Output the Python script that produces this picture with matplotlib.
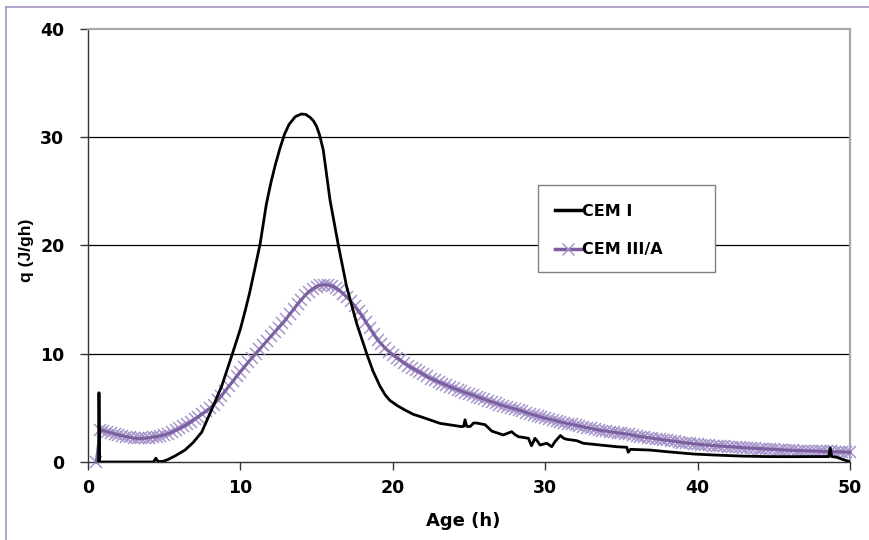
import matplotlib
matplotlib.use("Agg")
import matplotlib.pyplot as plt
from matplotlib.lines import Line2D
from matplotlib.patches import Rectangle
from matplotlib.font_manager import FontProperties

# ---- data ----
cem1_t = [0.68, 0.70, 0.72, 0.76, 1.0, 4.3, 4.45, 4.6, 4.9, 5.2, 5.7, 6.36, 6.9, 7.46,
          8.1, 8.77, 9.43, 10.0, 10.3, 10.6, 11.0, 11.3, 11.7, 12.0, 12.3, 12.6, 12.9, 13.2,
          13.6, 14.0, 14.3, 14.6, 14.8, 15.0, 15.2, 15.44, 15.88, 16.43, 16.97, 17.63,
          18.29, 18.7, 19.16, 19.5, 19.8, 20.3, 20.8, 21.35, 21.8, 23.1,
          24.5, 24.65, 24.74, 24.85, 25.07, 25.3, 25.5, 26.05, 26.5, 27.25, 27.8, 28.0,
          28.24, 28.9, 29.1, 29.33, 29.5, 29.66, 30.1, 30.43, 30.64, 31.0, 31.2, 31.4,
          32.07, 32.5, 33.6, 34.7, 35.35, 35.45, 35.6, 36.9, 38.0, 39.7, 41.0, 42.8,
          44.5, 46.06, 47.5, 48.6, 48.7, 48.8, 49.1, 49.6, 50.0]
cem1_q = [0.0, 0.0, 6.4, 0.0, 0.0, 0.0, 0.35, 0.05, 0.05, 0.2, 0.55, 1.1, 1.8, 2.75,
          4.8, 7.0, 9.8, 12.3, 13.9, 15.6, 18.2, 20.2, 23.8, 25.8, 27.5, 29.0, 30.3, 31.2,
          31.9, 32.15, 32.1, 31.8, 31.5, 31.0, 30.2, 28.8, 24.2, 20.0, 16.2, 12.8,
          10.0, 8.4, 7.0, 6.2, 5.7, 5.2, 4.8, 4.4, 4.2, 3.57,
          3.27, 3.3, 3.9, 3.3, 3.27, 3.6, 3.6, 3.45, 2.85, 2.5, 2.8, 2.55,
          2.34, 2.19, 1.5, 2.19, 1.9, 1.57, 1.73, 1.41, 1.88, 2.45, 2.2, 2.1,
          1.97, 1.73, 1.57, 1.41, 1.36, 0.9, 1.17, 1.1, 0.95, 0.74, 0.65, 0.55,
          0.5, 0.49, 0.5, 0.5, 1.3, 0.5, 0.45, 0.2, 0.03]

cem3_t = [0.55, 0.8,
          1.0, 1.25, 1.5, 1.75, 2.0, 2.25, 2.5, 2.75,
          3.0, 3.25, 3.5, 3.75, 4.0, 4.25, 4.5, 4.75,
          5.0, 5.25, 5.5, 5.75, 6.0, 6.25, 6.5, 6.75,
          7.0, 7.25, 7.5, 7.75, 8.0, 8.25, 8.5, 8.75,
          9.0, 9.25, 9.5, 9.75, 10.0, 10.25, 10.5, 10.75,
          11.0, 11.25, 11.5, 11.75, 12.0, 12.25, 12.5, 12.75,
          13.0, 13.25, 13.5, 13.75, 14.0, 14.25, 14.5, 14.75,
          15.0, 15.25, 15.5, 15.75, 16.0, 16.25, 16.5, 16.75,
          17.0, 17.25, 17.5, 17.75, 18.0, 18.25, 18.5, 18.75,
          19.0, 19.25, 19.5, 19.75, 20.0, 20.25, 20.5, 20.75,
          21.0, 21.25, 21.5, 21.75, 22.0, 22.25, 22.5, 22.75,
          23.0, 23.25, 23.5, 23.75, 24.0, 24.25, 24.5, 24.75,
          25.0, 25.25, 25.5, 25.75, 26.0, 26.25, 26.5, 26.75,
          27.0, 27.25, 27.5, 27.75, 28.0, 28.25, 28.5, 28.75,
          29.0, 29.25, 29.5, 29.75, 30.0, 30.25, 30.5, 30.75,
          31.0, 31.25, 31.5, 31.75, 32.0, 32.25, 32.5, 32.75,
          33.0, 33.25, 33.5, 33.75, 34.0, 34.25, 34.5, 34.75,
          35.0, 35.25, 35.5, 35.75, 36.0, 36.25, 36.5, 36.75,
          37.0, 37.25, 37.5, 37.75, 38.0, 38.25, 38.5, 38.75,
          39.0, 39.25, 39.5, 39.75, 40.0, 40.25, 40.5, 40.75,
          41.0, 41.25, 41.5, 41.75, 42.0, 42.25, 42.5, 42.75,
          43.0, 43.25, 43.5, 43.75, 44.0, 44.25, 44.5, 44.75,
          45.0, 45.25, 45.5, 45.75, 46.0, 46.25, 46.5, 46.75,
          47.0, 47.25, 47.5, 47.75, 48.0, 48.25, 48.5, 48.75,
          49.0, 49.25, 49.5, 49.75, 50.0]
cem3_q = [0.0, 3.0,
          2.9, 2.8, 2.7, 2.6, 2.5, 2.42, 2.35, 2.27,
          2.2, 2.18, 2.18, 2.2, 2.24, 2.29, 2.35, 2.42,
          2.5, 2.62, 2.76, 2.92, 3.1, 3.28, 3.48, 3.7,
          3.95, 4.2, 4.45, 4.7, 4.95, 5.3, 5.7, 6.1,
          6.55, 7.0, 7.45, 7.9, 8.35, 8.75, 9.2, 9.6,
          10.0, 10.4, 10.8, 11.2, 11.6, 12.0, 12.4, 12.8,
          13.2, 13.7, 14.1, 14.6, 15.0, 15.4, 15.75, 16.0,
          16.2, 16.33, 16.38, 16.35, 16.25, 16.1, 15.85, 15.55,
          15.2, 14.85, 14.4, 13.95, 13.45, 12.9, 12.35, 11.8,
          11.3, 10.9, 10.5, 10.2, 9.9, 9.65, 9.4, 9.15,
          8.9, 8.7, 8.5, 8.3, 8.1, 7.9, 7.7, 7.55,
          7.4, 7.25, 7.1, 6.95, 6.8, 6.67, 6.55, 6.42,
          6.3, 6.17, 6.05, 5.92, 5.8, 5.67, 5.55, 5.42,
          5.3, 5.2, 5.1, 5.0, 4.9, 4.8, 4.7, 4.57,
          4.45, 4.35, 4.25, 4.15, 4.05, 3.97, 3.9, 3.8,
          3.7, 3.62, 3.55, 3.47, 3.4, 3.32, 3.25, 3.17,
          3.1, 3.02, 2.95, 2.9, 2.85, 2.8, 2.75, 2.7,
          2.65, 2.6, 2.55, 2.47, 2.4, 2.35, 2.3, 2.25,
          2.2, 2.15, 2.1, 2.05, 2.0, 1.95, 1.9, 1.85,
          1.8, 1.76, 1.72, 1.68, 1.65, 1.61, 1.58, 1.55,
          1.52, 1.5, 1.47, 1.45, 1.42, 1.4, 1.37, 1.35,
          1.32, 1.3, 1.28, 1.26, 1.24, 1.22, 1.2, 1.18,
          1.16, 1.14, 1.12, 1.1, 1.09, 1.07, 1.06, 1.05,
          1.04, 1.03, 1.02, 1.01, 1.0, 0.99, 0.98, 0.97,
          0.96, 0.94, 0.93, 0.91, 0.9]

series_labels = ["CEM I", "CEM III/A"]
x_ticks = [0, 10, 20, 30, 40, 50]
y_ticks = [0, 10, 20, 30, 40]
x_label = "Age (h)"
y_label = "q (J/gh)"

# ---- figure ----
W, H = 869, 540
fig = plt.figure(figsize=(W / 100, H / 100), dpi=100)
ax = fig.add_axes([88 / W, 1 - 462 / H, (850 - 88) / W, (462 - 29) / H])

purple = "#7B5F9F"
purple_m = "#A291C9"

ax.plot(cem3_t, cem3_q, linestyle="none", marker="x", markersize=8.5,
        markeredgewidth=1.1, markeredgecolor=purple_m, alpha=0.95, zorder=3,
        clip_on=False)
ax.plot(cem3_t, cem3_q, color=purple, lw=2.2, zorder=3.5, clip_on=False)
ax.plot(cem1_t, cem1_q, color="black", lw=2.0, zorder=4, solid_joinstyle="round")

ax.set_xlim(0, 50)
ax.set_ylim(0, 40)
ax.set_xticks(x_ticks)
ax.set_yticks(y_ticks)

for v in y_ticks[1:-1]:
    ax.axhline(v, color="black", lw=0.9, zorder=1)

for s in ["top", "right"]:
    ax.spines[s].set_color("#A8A8A8")
    ax.spines[s].set_linewidth(1.6)
for s in ["left", "bottom"]:
    ax.spines[s].set_color("#333333")
    ax.spines[s].set_linewidth(1.0)

tick_fp = FontProperties(family="DejaVu Sans", weight="bold", size=12.5)
ax.tick_params(axis="both", direction="out", length=6, width=1.0, color="#333333")
ax.tick_params(axis="y", pad=11)
ax.tick_params(axis="x", pad=6)
for lab in ax.get_xticklabels() + ax.get_yticklabels():
    lab.set_fontproperties(tick_fp)

fig.text(463 / W, 1 - 521 / H, x_label, ha="center", va="center",
         family="DejaVu Sans", weight="bold", size=13)
fig.text(26 / W, 1 - 250 / H, y_label, ha="center", va="center", rotation=90,
         family="Liberation Sans", weight="bold", size=12.5)

# legend box
fig.add_artist(Rectangle((538 / W, 1 - 272 / H), (715 - 538) / W, (272 - 185) / H,
                         transform=fig.transFigure, facecolor="white",
                         edgecolor="#808080", lw=1.0, zorder=3))
handles = [Line2D([], [], color="black", lw=2.5),
           Line2D([], [], color=purple, lw=2.5, marker="x", markersize=8,
                  markeredgecolor=purple_m, markeredgewidth=1.0)]
fig.legend(handles, series_labels, loc="upper left",
           bbox_to_anchor=(555 / W, 1 - 204 / H), bbox_transform=fig.transFigure,
           frameon=False, borderpad=0, borderaxespad=0, handlelength=1.65,
           handletextpad=0.05, labelspacing=1.45,
           prop=dict(family="DejaVu Sans", weight="bold", size=11.5))

# figure outer border (top and left visible)
border = "#A594C4"
fig.add_artist(Line2D([6 / W, 6 / W], [0, 1 - 7 / H], transform=fig.transFigure,
                      color=border, lw=1.2))
fig.add_artist(Line2D([6 / W, 1], [1 - 7 / H, 1 - 7 / H], transform=fig.transFigure,
                      color=border, lw=1.2))

fig.savefig("out.png", dpi=100, facecolor="white")
